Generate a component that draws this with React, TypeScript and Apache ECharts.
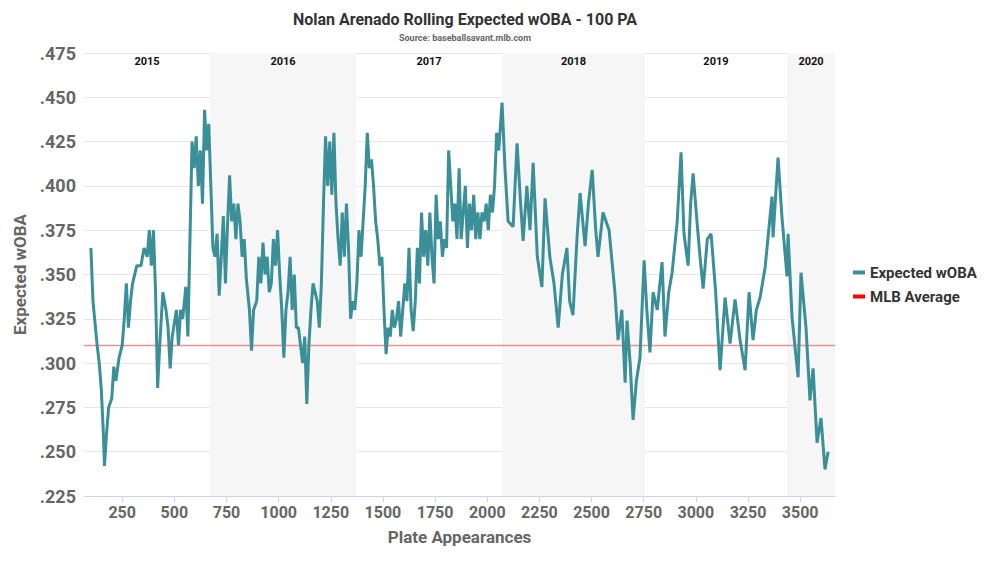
import React, { useEffect, useRef } from 'react';
import * as echarts from 'echarts';

// plate appearances (rolling 100 PA window end) and expected wOBA
const paValues = [
  100, 110, 130, 140, 150, 160, 165, 175, 185, 200, 210, 220, 235, 250, 260, 270, 280, 290, 300, 320,
  340, 355, 370, 380, 390, 400, 410, 420, 430, 445, 460, 470, 480, 490, 510, 520, 530, 540, 555, 565,
  575, 585, 595, 605, 615, 625, 635, 645, 655, 665, 675, 685, 695, 705, 715, 725, 735, 745, 755, 765,
  775, 785, 795, 805, 815, 825, 835, 845, 860, 870, 880, 895, 905, 915, 925, 935, 945, 955, 965, 975,
  985, 995, 1005, 1015, 1025, 1035, 1045, 1055, 1065, 1075, 1085, 1095, 1105, 1115, 1125, 1135, 1145, 1155, 1165, 1175,
  1185, 1195, 1205, 1215, 1225, 1235, 1245, 1255, 1265, 1275, 1285, 1295, 1305, 1315, 1325, 1335, 1345, 1355, 1365, 1375,
  1385, 1395, 1405, 1415, 1425, 1435, 1445, 1455, 1465, 1475, 1485, 1495, 1505, 1515, 1525, 1535, 1545, 1555, 1565, 1575,
  1585, 1595, 1605, 1615, 1625, 1635, 1645, 1655, 1665, 1675, 1685, 1695, 1705, 1715, 1725, 1735, 1745, 1755, 1765, 1775,
  1785, 1795, 1805, 1815, 1825, 1835, 1845, 1855, 1865, 1875, 1885, 1895, 1905, 1915, 1925, 1935, 1945, 1955, 1965, 1975,
  1985, 1995, 2005, 2015, 2025, 2035, 2045, 2055, 2071, 2085, 2100, 2124, 2143, 2160, 2172, 2190, 2205, 2220, 2240, 2262,
  2277, 2300, 2320, 2340, 2360, 2382, 2395, 2411, 2430, 2445, 2469, 2485, 2503, 2520, 2531, 2555, 2584, 2600, 2612, 2627,
  2645, 2661, 2670, 2685, 2699, 2715, 2732, 2752, 2765, 2780, 2795, 2815, 2838, 2852, 2870, 2886, 2910, 2929, 2943, 2963,
  2975, 2987, 3006, 3020, 3035, 3055, 3073, 3095, 3116, 3140, 3164, 3188, 3212, 3236, 3255, 3274, 3290, 3308, 3332, 3346,
  3365, 3370, 3394, 3413, 3437, 3442, 3461, 3490, 3504, 3528, 3547, 3562, 3581, 3600, 3619, 3634,
];
const xwobaValues = [
  .365, .335, .31, .30, .285, .26, .242, .26, .275, .28, .298, .29, .303, .31, .325, .345, .32, .335, .345, .355,
  .355, .365, .36, .375, .355, .375, .34, .286, .31, .34, .33, .32, .297, .315, .33, .31, .33, .325, .343, .315,
  .37, .425, .41, .428, .40, .42, .39, .443, .42, .435, .40, .365, .36, .373, .338, .36, .383, .345, .378, .406,
  .38, .39, .37, .39, .38, .36, .37, .348, .33, .307, .33, .335, .36, .345, .368, .35, .36, .34, .345, .37,
  .355, .375, .35, .33, .303, .33, .34, .36, .33, .35, .32, .32, .31, .30, .315, .277, .31, .33, .345, .34,
  .335, .32, .345, .39, .428, .40, .425, .395, .43, .39, .37, .355, .385, .36, .39, .365, .325, .335, .33, .345,
  .375, .36, .38, .40, .43, .41, .415, .40, .38, .37, .355, .36, .33, .305, .32, .315, .33, .32, .325, .335,
  .315, .33, .345, .335, .365, .33, .318, .335, .365, .345, .385, .36, .375, .355, .385, .36, .345, .395, .37, .38,
  .36, .37, .365, .42, .40, .38, .39, .37, .41, .37, .385, .40, .365, .39, .375, .395, .37, .385, .37, .385,
  .38, .39, .375, .395, .385, .40, .43, .42, .447, .41, .38, .377, .424, .39, .369, .40, .375, .413, .36, .343,
  .393, .36, .345, .32, .35, .365, .335, .327, .37, .396, .366, .39, .409, .375, .36, .385, .375, .355, .34, .313,
  .33, .289, .324, .30, .268, .29, .303, .358, .33, .306, .34, .33, .357, .315, .34, .351, .379, .419, .373, .355,
  .39, .407, .379, .36, .342, .37, .373, .34, .296, .337, .311, .336, .313, .296, .340, .313, .33, .337, .354, .371,
  .394, .371, .416, .382, .349, .373, .326, .292, .351, .320, .279, .297, .255, .269, .240, .250,
];
const mlbAverage = 0.31;
const xTickValues = [250, 500, 750, 1000, 1250, 1500, 1750, 2000, 2250, 2500, 2750, 3000, 3250, 3500];
const seasons = ['2015', '2016', '2017', '2018', '2019', '2020'];
const seasonStarts = [67, 671, 1371, 2071, 2756, 3437];
const seasonEnds = [671, 1371, 2071, 2756, 3437, 3667];

export default function App() {
  const chartRef = useRef<HTMLDivElement | null>(null);

  useEffect(() => {
    if (!chartRef.current) return;
    document.body.style.margin = '0';
    const chart = echarts.init(chartRef.current, null, { renderer: 'svg' });
    const font = 'Roboto, sans-serif';

    const option = {
      animation: false,
      textStyle: { fontFamily: font },
      title: {
        text: 'Nolan Arenado Rolling Expected wOBA - 100 PA',
        subtext: 'Source: baseballsavant.mlb.com',
        left: 460,
        textAlign: 'center',
        top: 6,
        itemGap: 6,
        textStyle: { fontFamily: font, fontSize: 16, fontWeight: 'bold', color: '#333' },
        subtextStyle: { fontFamily: font, fontSize: 9, fontWeight: 'bold', color: '#666' },
      },
      legend: {
        orient: 'vertical',
        left: 848,
        top: 260,
        itemWidth: 12,
        itemHeight: 4,
        itemGap: 9,
        icon: 'rect',
        textStyle: { fontFamily: font, fontSize: 15, fontWeight: 'bold', color: '#333' },
        data: ['Expected wOBA', 'MLB Average'],
      },
      grid: { left: 84, right: 165, top: 53, bottom: 67 },
      xAxis: {
        type: 'value',
        min: 67,
        max: 3667,
        name: 'Plate Appearances',
        nameLocation: 'middle',
        nameGap: 32,
        nameTextStyle: { fontSize: 17, fontWeight: 'bold', color: '#666' },
        axisLine: { show: true, lineStyle: { color: '#ccd6eb' } },
        axisTick: { show: true, length: 6, customValues: xTickValues, lineStyle: { color: '#ccd6eb' } },
        axisLabel: {
          customValues: xTickValues,
          fontSize: 16,
          fontWeight: 'bold',
          color: '#666',
          margin: 8,
          formatter: (v: number) => String(v),
        },
        splitLine: { show: false },
      },
      yAxis: {
        type: 'value',
        min: 0.225,
        max: 0.475,
        interval: 0.025,
        name: 'Expected wOBA',
        nameLocation: 'middle',
        nameGap: 56,
        nameTextStyle: { fontSize: 17, fontWeight: 'bold', color: '#666' },
        axisLine: { show: false },
        axisTick: { show: false },
        axisLabel: {
          fontSize: 18,
          fontWeight: 'bold',
          color: '#666',
          formatter: (v: number) => v.toFixed(3).replace(/^0/, ''),
        },
        splitLine: { lineStyle: { color: '#e6e6e6' } },
      },
      series: [
        {
          name: 'Expected wOBA',
          type: 'line',
          data: paValues.map((pa, i) => [pa, xwobaValues[i]]),
          symbol: 'none',
          color: '#3a8f98',
          lineStyle: { width: 3, color: '#3a8f98' },
          markArea: {
            silent: true,
            data: seasons.map((s, i) => [
              {
                name: s,
                xAxis: seasonStarts[i],
                itemStyle: { color: i % 2 === 1 ? '#f6f6f6' : 'rgba(0,0,0,0)' },
                label: {
                  show: true,
                  position: 'insideTop',
                  distance: 3,
                  fontSize: 11,
                  fontWeight: 'bold',
                  color: '#111',
                  fontFamily: font,
                },
              },
              { xAxis: seasonEnds[i] },
            ]),
          },
          z: 3,
        },
        {
          name: 'MLB Average',
          type: 'line',
          data: [
            [67, mlbAverage],
            [3667, mlbAverage],
          ],
          symbol: 'none',
          color: '#ff0000',
          lineStyle: { width: 1.5, color: '#f59090' },
          z: 2,
        },
      ],
    };

    chart.setOption(option);
    return () => chart.dispose();
  }, []);

  return <div ref={chartRef} style={{ width: 1000, height: 563 }} />;
}
